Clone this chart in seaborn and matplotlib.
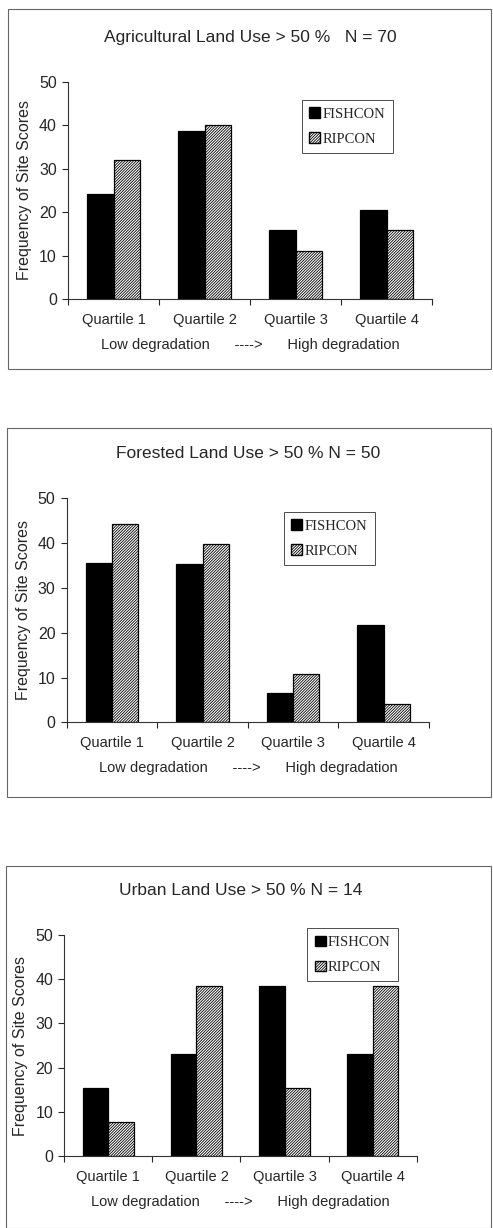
import pandas as pd
import matplotlib.pyplot as plt
import matplotlib.patches as mpatches
import numpy as np
import seaborn as sns

# DATOS
quartiles = ["Quartile 1", "Quartile 2", "Quartile 3", "Quartile 4"]
series = ["FISHCON", "RIPCON"]

agri_fishcon = [24.3, 38.6, 15.9, 20.6]
agri_ripcon = [32.1, 40.2, 11.0, 15.8]

forest_fishcon = [35.5, 35.3, 6.5, 21.8]
forest_ripcon = [44.3, 39.7, 10.8, 4.0]

urban_fishcon = [15.4, 23.1, 38.5, 23.1]
urban_ripcon = [7.7, 38.5, 15.4, 38.5]

titles = [
    "Agricultural Land Use > 50 %   N = 70",
    "Forested Land Use > 50 % N = 50",
    "Urban Land Use > 50 % N = 14",
]

sns.set_style("ticks")
plt.rcParams["font.family"] = ["Liberation Sans", "DejaVu Sans"]
plt.rcParams["hatch.linewidth"] = 0.6

RAYADO = "/" * 12


def hacer_df(fish, rip):
    return pd.DataFrame({
        "Quartile": quartiles * 2,
        "Serie": [series[0]] * 4 + [series[1]] * 4,
        "Valor": list(fish) + list(rip),
    })


def dibujar_panel(ax, fish, rip, titulo, leg_pos):
    df = hacer_df(fish, rip)
    sns.barplot(data=df, x="Quartile", y="Valor", hue="Serie", order=quartiles,
                hue_order=series, palette=["black", "black"], width=0.58,
                edgecolor="black", linewidth=0.9, ax=ax, legend=False)
    # RIPCON rayado
    for p in ax.containers[1].patches:
        p.set_facecolor("white")
        p.set_hatch(RAYADO)

    ax.set_ylim(0, 50)
    ax.set_xlim(-0.5, 3.5)
    ax.set_yticks(np.arange(0, 51, 10))
    ax.tick_params(axis="y", labelsize=11.5, length=4, width=0.8, direction="out", pad=4)

    # ticks en los límites de categoría, etiquetas en el centro
    ax.set_xticks(np.arange(-0.5, 4, 1))
    ax.set_xticklabels([])
    ax.set_xticks(np.arange(4), minor=True)
    ax.set_xticklabels(quartiles, minor=True)
    ax.tick_params(axis="x", which="major", length=4, width=0.8, direction="out")
    ax.tick_params(axis="x", which="minor", length=0, labelsize=10.5, pad=10)

    ax.set_xlabel("Low degradation      ---->      High degradation", fontsize=10.5, labelpad=8)
    ax.set_ylabel("Frequency of Site Scores", fontsize=11.5, labelpad=5)
    ax.set_title(titulo, fontsize=12.5, pad=29)

    sns.despine(ax=ax)
    for s in ["left", "bottom"]:
        ax.spines[s].set_linewidth(0.8)
        ax.spines[s].set_color("0.2")

    # Leyenda
    handles = [
        mpatches.Patch(facecolor="black", edgecolor="black", label=series[0]),
        mpatches.Patch(facecolor="white", edgecolor="black", hatch=RAYADO, label=series[1]),
    ]
    leg = ax.legend(handles=handles, loc="upper left", bbox_to_anchor=leg_pos,
                    frameon=True, fancybox=False, framealpha=1, edgecolor="0.3",
                    prop={"family": "Liberation Serif", "size": 10.5},
                    handlelength=0.75, handleheight=0.75, handletextpad=0.15,
                    labelspacing=0.8, borderpad=0.5, borderaxespad=0)
    leg.get_frame().set_linewidth(0.7)


fig = plt.figure(figsize=(4.93, 12.28), dpi=100)

# marcos de cada panel
for (x0, y0, x1, y1) in [(8, 9, 491, 369), (7, 428, 491, 797), (6, 866, 491, 1228)]:
    rect = mpatches.Rectangle((x0 / 493, 1 - y1 / 1228), (x1 - x0) / 493, (y1 - y0) / 1228,
                              transform=fig.transFigure, fill=False,
                              edgecolor="0.4", linewidth=0.8)
    fig.patches.append(rect)

ax1 = fig.add_axes([68 / 493, 929 / 1228, 364 / 493, 217 / 1228])
ax2 = fig.add_axes([66.7 / 493, 505.7 / 1228, 362.3 / 493, 224 / 1228])
ax3 = fig.add_axes([64.3 / 493, 72 / 1228, 352.4 / 493, 221 / 1228])

dibujar_panel(ax1, agri_fishcon, agri_ripcon, titles[0], (0.643, 0.917))
dibujar_panel(ax2, forest_fishcon, forest_ripcon, titles[1], (0.600, 0.939))
dibujar_panel(ax3, urban_fishcon, urban_ripcon, titles[2], (0.690, 1.03))

plt.savefig("out.png", dpi=100)
